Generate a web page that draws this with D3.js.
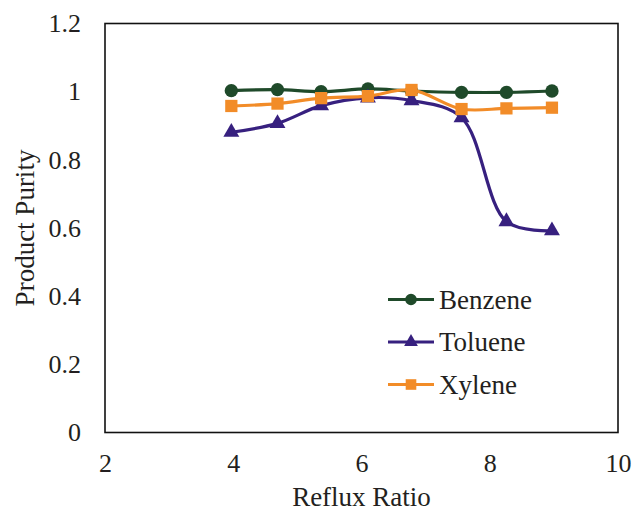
<!DOCTYPE html>
<html>
<head>
<meta charset="utf-8">
<script src="https://cdn.jsdelivr.net/npm/d3@7"></script>
<style>
  body { margin: 0; background: #fff; }
  text { font-family: "Liberation Serif", "Times New Roman", serif; fill: #231f20; }
</style>
</head>
<body>
<svg width="634" height="513"></svg>
<script>
var svg = d3.select('svg');

// data
var refluxRatio = [3.97, 4.69, 5.37, 6.1, 6.78, 7.56, 8.26, 8.97];
var benzene = [1.003, 1.006, 1.0, 1.008, 1.002, 0.998, 0.998, 1.002];
var toluene = [0.881, 0.907, 0.959, 0.982, 0.974, 0.924, 0.619, 0.592];
var xylene = [0.958, 0.965, 0.981, 0.987, 1.005, 0.949, 0.951, 0.953];
var xTicks = [2, 4, 6, 8, 10];
var yTicks = [0, 0.2, 0.4, 0.6, 0.8, 1, 1.2];

var series = [
    {name: "Benzene", values: benzene, color: "#1f4a2a", symbol: d3.symbolCircle, size: 140},
    {name: "Toluene", values: toluene, color: "#37207f", symbol: d3.symbolTriangle, size: 110},
    {name: "Xylene", values: xylene, color: "#f28c28", symbol: d3.symbolSquare, size: 150}
];

// plot box (window.top is read-only, so keep these in an object)
var box = {left: 105, right: 618, top: 23.5, bottom: 432.5};

var x = d3.scaleLinear().domain([2, 10]).range([box.left, box.right]);
var y = d3.scaleLinear().domain([0, 1.2]).range([box.bottom, box.top]);

// frame
svg.append("rect")
    .attr("x", box.left)
    .attr("y", box.top)
    .attr("width", box.right - box.left)
    .attr("height", box.bottom - box.top)
    .attr("fill", "none")
    .attr("stroke", "#111")
    .attr("stroke-width", 1.6);

// axes, labels only
svg.append("g")
    .attr("transform", "translate(0," + box.bottom + ")")
    .call(d3.axisBottom(x).tickValues(xTicks).tickSize(0).tickPadding(21).tickFormat(d3.format("d")));
svg.append("g")
    .attr("transform", "translate(" + box.left + ",0)")
    .call(d3.axisLeft(y).tickValues(yTicks).tickSize(0).tickPadding(24).tickFormat(function(d) { return String(d); }));

svg.selectAll(".domain").remove();
svg.selectAll(".tick text")
    .style("font-family", "'Liberation Serif', serif")
    .style("font-size", "26px")
    .attr("fill", "#231f20");

svg.append("text")
    .attr("x", (box.left + box.right) / 2)
    .attr("y", 506)
    .attr("text-anchor", "middle")
    .style("font-size", "27px")
    .text("Reflux Ratio");

svg.append("text")
    .attr("transform", "translate(34," + ((box.top + box.bottom) / 2) + ") rotate(-90)")
    .attr("text-anchor", "middle")
    .style("font-size", "27px")
    .text("Product Purity");

// lines
var line = d3.line()
    .x(function(d, i) { return x(refluxRatio[i]); })
    .y(function(d) { return y(d); })
    .curve(d3.curveCatmullRom.alpha(0.5));

series.forEach(function(s) {
    svg.append("path")
        .attr("d", line(s.values))
        .attr("fill", "none")
        .attr("stroke", s.color)
        .attr("stroke-width", 3.2);

    svg.append("g")
        .selectAll("path")
        .data(s.values)
        .enter()
        .append("path")
        .attr("transform", function(d, i) {
            return "translate(" + x(refluxRatio[i]) + "," + y(d) + ")";
        })
        .attr("d", d3.symbol().type(s.symbol).size(s.size))
        .attr("fill", s.color);
});

// legend
var legend = svg.append("g")
    .selectAll("g")
    .data(series)
    .enter()
    .append("g")
    .attr("transform", function(d, i) { return "translate(388," + (299.5 + i * 42.5) + ")"; });

legend.append("line")
    .attr("x1", 0)
    .attr("x2", 46)
    .attr("stroke", function(d) { return d.color; })
    .attr("stroke-width", 3.2);

legend.append("path")
    .attr("transform", "translate(23,0)")
    .attr("d", function(d) { return d3.symbol().type(d.symbol).size(d.size * 0.75)(); })
    .attr("fill", function(d) { return d.color; });

legend.append("text")
    .attr("x", 51)
    .attr("dy", "0.35em")
    .style("font-size", "27px")
    .text(function(d) { return d.name; });
</script>
</body>
</html>
